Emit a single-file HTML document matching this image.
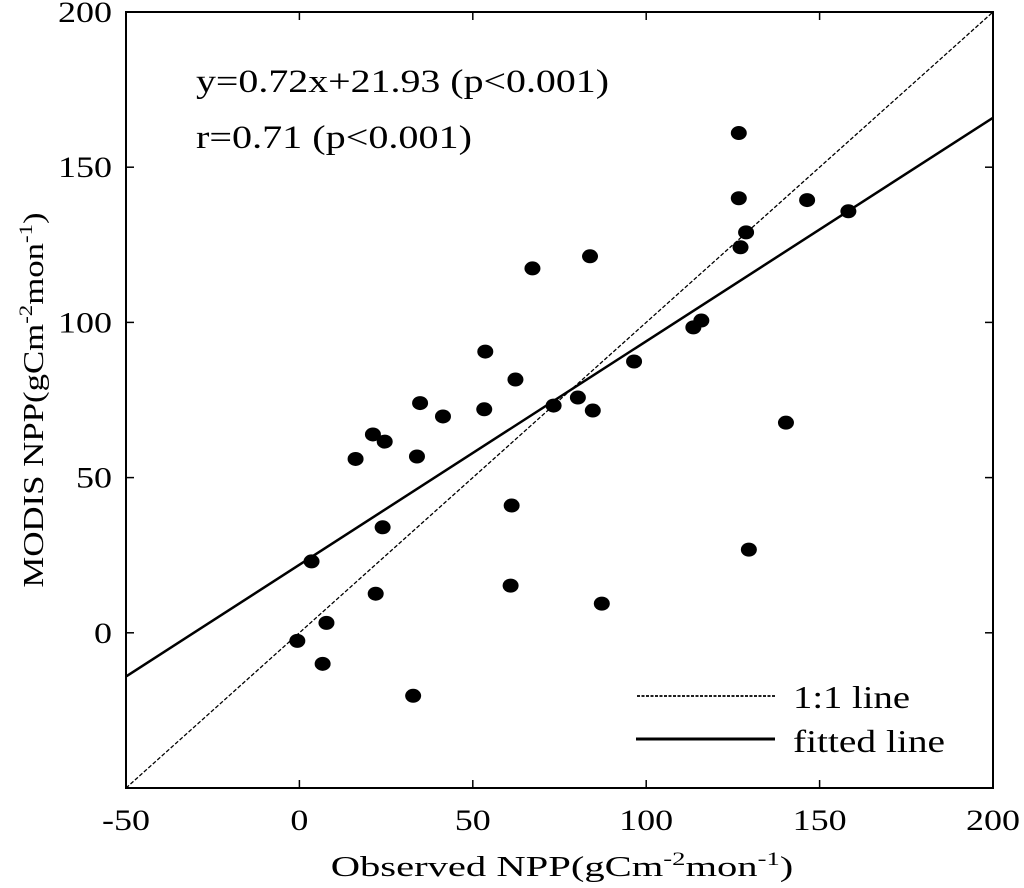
<!DOCTYPE html>
<html><head><meta charset="utf-8"><style>
html,body{margin:0;padding:0;background:#fff;}
svg{display:block;font-family:"Liberation Serif",serif;}
</style></head><body>
<svg id="chart" width="1024" height="888">
<g id="plot"></g>
<text x="196" y="92" font-size="33" textLength="413" lengthAdjust="spacingAndGlyphs">y=0.72x+21.93 (p&lt;0.001)</text>
<text x="196" y="148" font-size="33" textLength="276" lengthAdjust="spacingAndGlyphs">r=0.71 (p&lt;0.001)</text>
<g>
<line x1="637" y1="696" x2="775" y2="696" stroke="#000" stroke-width="1.8" stroke-dasharray="3,1.5"/>
<text x="793" y="708" font-size="32" textLength="117" lengthAdjust="spacingAndGlyphs">1:1 line</text>
<line x1="636" y1="739" x2="775" y2="739" stroke="#000" stroke-width="3"/>
<text x="793" y="752" font-size="32" textLength="152" lengthAdjust="spacingAndGlyphs">fitted line</text>
</g>
<text transform="translate(562,876) scale(1.4,1)" font-size="29" text-anchor="middle">Observed NPP(gCm<tspan dy="-11" font-size="19">-2</tspan><tspan dy="11">mon</tspan><tspan dy="-11" font-size="19">-1</tspan><tspan dy="11">)</tspan></text>
<text transform="translate(43,400) rotate(-90) scale(1.2,1)" font-size="29" text-anchor="middle">MODIS NPP(gCm<tspan dy="-11" font-size="19">-2</tspan><tspan dy="11">mon</tspan><tspan dy="-11" font-size="19">-1</tspan><tspan dy="11">)</tspan></text>
</svg>
<script>
const obsX = [-0.6,3.5,7.8,6.7,16.2,21.2,24.6,22,24,34.8,33.9,41.4,32.8,53.6,53.3,62.3,61.2,60.9,67.2,73.3,80.3,83.8,84.6,87.2,96.5,113.6,115.9,126.7,126.7,127.2,128.8,129.6,140.3,146.4,158.3];
const modisY = [-2.6,23,3.2,-10,56,63.9,61.6,12.6,34,74,56.8,69.7,-20.3,90.6,72,81.6,41,15.2,117.4,73.2,75.8,121.3,71.6,9.4,87.4,98.4,100.6,161,140,124.2,129,26.8,67.7,139.4,135.8];
const xTicks = [-50,0,50,100,150,200];
const yTicks = [0,50,100,150,200];
const fitSlope = 0.72, fitIntercept = 21.93;

const NS="http://www.w3.org/2000/svg";
const L=126,R=993,T=12,B=788;
const xMin=-50,xMax=200,yMin=-50,yMax=200;
const sx=v=>L+(v-xMin)/(xMax-xMin)*(R-L);
const sy=v=>B-(v-yMin)/(yMax-yMin)*(B-T);
const g=document.getElementById('plot');
function mk(tag,attrs,parent){const e=document.createElementNS(NS,tag);for(const k in attrs)e.setAttribute(k,attrs[k]);(parent||g).appendChild(e);return e;}

const defs=mk('defs',{});
const cp=mk('clipPath',{id:'clip'},defs);mk('rect',{x:L,y:T,width:R-L,height:B-T},cp);

let e=mk('line',{x1:sx(-50),y1:sy(-50),x2:sx(200),y2:sy(200),stroke:'#000','stroke-width':1.3,'stroke-dasharray':'4,2','clip-path':'url(#clip)'});


e=mk('line',{x1:sx(-50),y1:sy(fitSlope*-50+fitIntercept),x2:sx(200),y2:sy(fitSlope*200+fitIntercept),stroke:'#000','stroke-width':2.5,'clip-path':'url(#clip)'});



obsX.forEach((x,i)=>{
  const p=mk('ellipse',{cx:sx(x),cy:sy(modisY[i]),rx:8,ry:7,fill:'#000'});
  
  
});

e=mk('rect',{x:L,y:T,width:R-L,height:B-T,fill:'none',stroke:'#000','stroke-width':2});



function stretch(t){const w=t.getComputedTextLength();t.setAttribute('textLength',w*1.2);t.setAttribute('lengthAdjust','spacingAndGlyphs');}
xTicks.forEach(v=>{
  mk('line',{x1:sx(v),y1:B,x2:sx(v),y2:B-8,stroke:'#000','stroke-width':1.5});
  mk('line',{x1:sx(v),y1:T,x2:sx(v),y2:T+8,stroke:'#000','stroke-width':1.5});
  const t=mk('text',{x:sx(v),y:B+42,'text-anchor':'middle','font-size':30});
  t.textContent=v;
  
  
  stretch(t);
});
yTicks.forEach(v=>{
  mk('line',{x1:L,y1:sy(v),x2:L+8,y2:sy(v),stroke:'#000','stroke-width':1.5});
  mk('line',{x1:R,y1:sy(v),x2:R-8,y2:sy(v),stroke:'#000','stroke-width':1.5});
  const t=mk('text',{x:L-14,y:sy(v)+10,'text-anchor':'end','font-size':30});
  t.textContent=v;
  
  
  stretch(t);
});
</script>
</body></html>
